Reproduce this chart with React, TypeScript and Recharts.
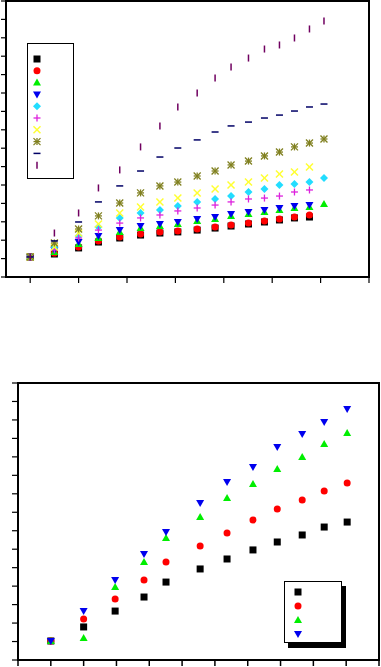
import React from 'react';
import { ScatterChart, Scatter, XAxis, YAxis, ReferenceArea, Legend } from 'recharts';

// ---------- Top chart data ----------
const topX = [0, 25, 50, 70.5, 92.5, 114, 134, 152.5, 172.5, 191, 207.5, 225.5, 242, 257.5, 273, 288.5, 303.5];
const topXTicks = [0, 50, 100, 150, 200, 250, 300, 350];
const topYTicks = [0, 1, 2, 3, 4, 5, 6, 7, 8, 9, 10, 11, 12, 13, 14, 15];

const topBlack = [1.09, 1.25, 1.58, 1.90, 2.12, 2.28, 2.39, 2.45, 2.55, 2.66, 2.77, 2.88, 2.99, 3.10, 3.21, 3.26];
const topRed = [1.09, 1.30, 1.63, 1.96, 2.17, 2.34, 2.45, 2.50, 2.61, 2.72, 2.83, 2.93, 3.04, 3.15, 3.26, 3.37];
const topGreen = [1.09, 1.36, 1.79, 2.12, 2.45, 2.66, 2.77, 2.88, 3.04, 3.15, 3.32, 3.42, 3.53, 3.64, 3.75, 3.80, 3.97];
const topBlue = [1.09, 1.47, 1.90, 2.23, 2.55, 2.77, 2.88, 2.99, 3.15, 3.26, 3.42, 3.53, 3.64, 3.75, 3.86, 3.91];
const topCyan = [1.09, 1.63, 2.23, 2.72, 3.21, 3.48, 3.64, 3.86, 4.08, 4.24, 4.40, 4.62, 4.78, 5.00, 5.05, 5.16, 5.38];
const topMagenta = [1.09, 1.47, 2.12, 2.55, 2.93, 3.21, 3.37, 3.59, 3.75, 3.91, 4.08, 4.24, 4.29, 4.40, 4.62, 4.73];
const topYellow = [1.09, 1.63, 2.39, 2.88, 3.48, 3.80, 4.08, 4.29, 4.57, 4.78, 5.00, 5.16, 5.38, 5.60, 5.71, 5.98];
const topOlive = [1.09, 1.85, 2.61, 3.32, 4.02, 4.57, 4.95, 5.16, 5.49, 5.76, 6.09, 6.30, 6.58, 6.79, 7.07, 7.28, 7.50];
const topNavy = [1.09, 1.96, 2.99, 4.08, 4.95, 5.76, 6.52, 7.01, 7.45, 7.88, 8.21, 8.42, 8.64, 8.80, 9.02, 9.24, 9.40];
const topPurple = [1.09, 2.39, 3.48, 4.84, 5.82, 7.07, 8.21, 9.24, 10.0, 10.82, 11.41, 11.90, 12.39, 12.61, 12.99, 13.48, 13.91];

// ---------- Bottom chart data ----------
const botX = [1.0, 2.0, 2.96, 3.84, 4.51, 5.55, 6.37, 7.16, 7.9, 8.66, 9.33, 10.03];
const botXTicks = [0, 1, 2, 3, 4, 5, 6, 7, 8, 9, 10, 11];
const botYTicks = [0, 1, 2, 3, 4, 5, 6, 7, 8, 9, 10, 11, 12, 13, 14, 15];

const botBlack = [1.03, 1.79, 2.65, 3.41, 4.22, 4.93, 5.47, 5.96, 6.39, 6.77, 7.20, 7.47];
const botRed = [1.03, 2.22, 3.30, 4.33, 5.31, 6.17, 6.88, 7.58, 8.18, 8.66, 9.15, 9.58];
const botGreen = [1.03, 1.19, 3.95, 5.31, 6.61, 7.74, 8.77, 9.53, 10.34, 10.99, 11.69, 12.29];
const botBlue = [1.03, 2.65, 4.33, 5.74, 6.93, 8.50, 9.64, 10.45, 11.53, 12.24, 12.89, 13.59];

type Kind = 'square' | 'circle' | 'up' | 'down' | 'diamond' | 'plus' | 'cross' | 'star' | 'dash' | 'bar';

function drawMarker(kind: Kind, color: string, cx: number, cy: number, s: number) {
  const h = s / 2;
  switch (kind) {
    case 'square':
      return <rect x={cx - h} y={cy - h} width={s} height={s} fill={color} />;
    case 'circle':
      return <circle cx={cx} cy={cy} r={h} fill={color} />;
    case 'up':
      return <polygon points={`${cx},${cy - h - 0.5} ${cx - h - 0.5},${cy + h - 0.5} ${cx + h + 0.5},${cy + h - 0.5}`} fill={color} />;
    case 'down':
      return <polygon points={`${cx},${cy + h + 0.5} ${cx - h - 0.5},${cy - h + 0.5} ${cx + h + 0.5},${cy - h + 0.5}`} fill={color} />;
    case 'diamond':
      return <polygon points={`${cx},${cy - h - 0.5} ${cx + h + 0.5},${cy} ${cx},${cy + h + 0.5} ${cx - h - 0.5},${cy}`} fill={color} />;
    case 'plus':
      return (
        <g stroke={color} strokeWidth={1.3}>
          <line x1={cx - h} y1={cy} x2={cx + h} y2={cy} />
          <line x1={cx} y1={cy - h} x2={cx} y2={cy + h} />
        </g>
      );
    case 'cross':
      return (
        <g stroke={color} strokeWidth={1.5}>
          <line x1={cx - h} y1={cy - h} x2={cx + h} y2={cy + h} />
          <line x1={cx - h} y1={cy + h} x2={cx + h} y2={cy - h} />
        </g>
      );
    case 'star':
      return (
        <g stroke={color} strokeWidth={1.3}>
          <line x1={cx - h} y1={cy - h} x2={cx + h} y2={cy + h} />
          <line x1={cx - h} y1={cy + h} x2={cx + h} y2={cy - h} />
          <line x1={cx - h} y1={cy} x2={cx + h} y2={cy} />
          <line x1={cx} y1={cy - h} x2={cx} y2={cy + h} />
        </g>
      );
    case 'dash':
      return <line x1={cx - h} y1={cy} x2={cx + h} y2={cy} stroke={color} strokeWidth={1.5} />;
    case 'bar':
      return <line x1={cx} y1={cy - h} x2={cx} y2={cy + h} stroke={color} strokeWidth={1.5} />;
  }
  return null;
}

interface SeriesDef { name: string; kind: Kind; color: string; values: number[] }

const topSeries: SeriesDef[] = [
  { name: 's1', kind: 'square', color: '#000000', values: topBlack },
  { name: 's2', kind: 'circle', color: '#ff0000', values: topRed },
  { name: 's3', kind: 'up', color: '#00ee00', values: topGreen },
  { name: 's4', kind: 'down', color: '#0000ee', values: topBlue },
  { name: 's5', kind: 'diamond', color: '#22ddff', values: topCyan },
  { name: 's6', kind: 'plus', color: '#dd22dd', values: topMagenta },
  { name: 's7', kind: 'cross', color: '#ffff33', values: topYellow },
  { name: 's8', kind: 'star', color: '#808020', values: topOlive },
  { name: 's9', kind: 'dash', color: '#000066', values: topNavy },
  { name: 's10', kind: 'bar', color: '#700060', values: topPurple },
];

const botSeries: SeriesDef[] = [
  { name: 'b1', kind: 'square', color: '#000000', values: botBlack },
  { name: 'b2', kind: 'circle', color: '#ff0000', values: botRed },
  { name: 'b3', kind: 'up', color: '#00ee00', values: botGreen },
  { name: 'b4', kind: 'down', color: '#0000ee', values: botBlue },
];

function toData(xs: number[], ys: number[]) {
  return ys.map((y, i) => ({ x: xs[i], y }));
}

const EmptyTick = () => <g />;

function LegendBox({ series, w, h, x0, y0, dy, s }: { series: SeriesDef[]; w: number; h: number; x0: number; y0: number; dy: number; s: number }) {
  return (
    <svg width={w} height={h} style={{ display: 'block' }}>
      {series.map((sd, i) => (
        <g key={sd.name}>{drawMarker(sd.kind, sd.color, x0, y0 + i * dy, s)}</g>
      ))}
    </svg>
  );
}

export default function App() {
  return (
    <div style={{ position: 'absolute', left: 0, top: 0, width: 381, height: 667, background: '#fff' }}>
      <div style={{ position: 'absolute', left: 0, top: 0 }}>
        <ScatterChart width={381} height={290} margin={{ top: 1, right: 12, bottom: 0, left: 0 }}>
          <XAxis type="number" dataKey="x" domain={[-25, 350]} ticks={topXTicks} tick={EmptyTick} tickSize={6} interval={0}
            tickLine={{ stroke: '#000', strokeWidth: 1.2 }} axisLine={false} height={13} allowDataOverflow />
          <YAxis type="number" dataKey="y" domain={[0, 15]} ticks={topYTicks} tick={EmptyTick} tickSize={5} interval={0}
            tickLine={{ stroke: '#000', strokeWidth: 1.2 }} axisLine={false} width={6} allowDataOverflow />
          <ReferenceArea x1={-25} x2={350} y1={0} y2={15} fill="none" stroke="#000" strokeWidth={2} />
          {topSeries.map((sd) => (
            <Scatter key={sd.name} name={sd.name} data={toData(topX, sd.values)} fill={sd.color}
              isAnimationActive={false}
              shape={(p: any) => drawMarker(sd.kind, sd.color, p.cx, p.cy, 7)} />
          ))}
          <Legend layout="vertical" align="center" verticalAlign="middle"
            content={() => <LegendBox series={topSeries} w={45} h={134} x0={9} y0={15} dy={11.8} s={7} />}
            wrapperStyle={{ position: 'absolute', left: 27, top: 43, width: 47, height: 136, border: '1px solid #000', background: '#fff', boxSizing: 'border-box', margin: 0, padding: 0 }} />
        </ScatterChart>
      </div>
      <div style={{ position: 'absolute', left: 0, top: 380 }}>
        <ScatterChart width={381} height={287} margin={{ top: 3, right: 2, bottom: 0, left: 0 }}>
          <XAxis type="number" dataKey="x" domain={[0, 11]} ticks={botXTicks} tick={EmptyTick} tickSize={6} interval={0}
            tickLine={{ stroke: '#000', strokeWidth: 1.5 }} axisLine={false} height={7} allowDataOverflow />
          <YAxis type="number" dataKey="y" domain={[0, 15]} ticks={botYTicks} tick={EmptyTick} tickSize={6} interval={0}
            tickLine={{ stroke: '#000', strokeWidth: 1.2 }} axisLine={false} width={18} allowDataOverflow />
          <ReferenceArea x1={0} x2={11} y1={0} y2={15} fill="none" stroke="#000" strokeWidth={2} />
          {botSeries.map((sd) => (
            <Scatter key={sd.name} name={sd.name} data={toData(botX, sd.values)} fill={sd.color}
              isAnimationActive={false}
              shape={(p: any) => drawMarker(sd.kind, sd.color, p.cx, p.cy, 7)} />
          ))}
          <Legend layout="vertical" align="center" verticalAlign="middle"
            content={() => <LegendBox series={botSeries} w={56} h={60} x0={13} y0={10} dy={14} s={7} />}
            wrapperStyle={{ position: 'absolute', left: 284, top: 201, width: 58, height: 62, border: '1px solid #000', background: '#fff', boxSizing: 'border-box', boxShadow: '4px 5px 0 #000', margin: 0, padding: 0 }} />
        </ScatterChart>
      </div>
    </div>
  );
}
